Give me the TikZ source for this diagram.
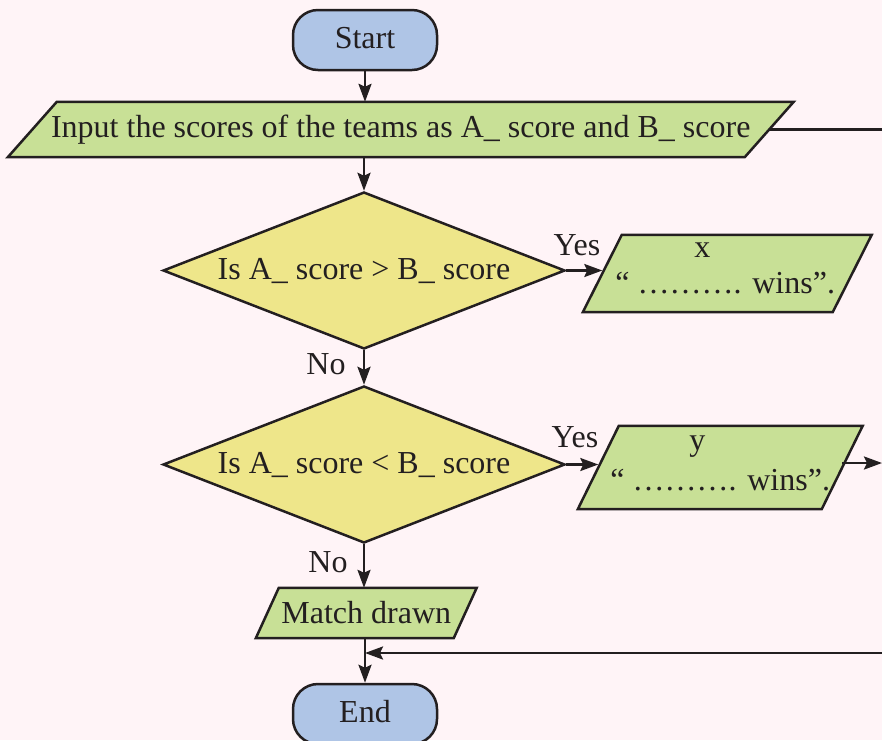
\documentclass[tikz,border=0pt]{standalone}
\usepackage{fontspec}
\setmainfont{Liberation Serif}
\usetikzlibrary{shapes.geometric,arrows.meta,backgrounds}
\definecolor{bgc}{HTML}{FFF4F7}
\definecolor{greenc}{HTML}{C8E096}
\definecolor{yellowc}{HTML}{EEE68A}
\definecolor{bluec}{HTML}{AFC5E6}
\definecolor{linec}{HTML}{231F20}
\begin{document}
\begin{tikzpicture}[x=1pt,y=-1pt,
  font=\fontsize{32}{36}\selectfont, text=linec,
  term/.style={draw=linec, fill=bluec, line width=2.5pt, rounded corners=25pt,
    minimum width=144pt, minimum height=60pt, inner sep=0pt,
    text height=21pt, text depth=5pt},
  iobox/.style={rectangle, inner sep=0pt, align=center},
  para/.style={draw=linec, fill=greenc, line width=2.5pt, line join=miter},
  decision/.style={draw=linec, fill=yellowc, line width=2.5pt, diamond, inner sep=0pt,
    aspect=2.56, minimum width=402pt, minimum height=157pt},
  conn/.style={draw=linec, line width=2.5pt, -{Stealth[length=18pt,width=13pt,inset=3pt]}},
  plain/.style={draw=linec, line width=2.5pt},
  lab/.style={inner sep=0pt}]
\useasboundingbox (0,0) rectangle (882,740);

\node[term] (start) at (365,40) {Start};
\node[iobox, minimum width=736.5pt, minimum height=55pt] (inp) at (400.75,129.5)
  {Input the scores of the teams as A\_ score and B\_ score};
\node[decision] (d1) at (364,270.5) {Is A\_ score > B\_ score};
\node[iobox, minimum width=249.5pt, minimum height=77pt,
  font=\fontsize{32}{36}\selectfont] (xb) at (727.25,273.5)
  {x\hspace*{50pt}\\“ ………. wins”.\hspace*{4pt}\rule[-10pt]{0pt}{10pt}};
\node[decision] (d2) at (364,464.5) {Is A\_ score < B\_ score};
\node[iobox, minimum width=243.5pt, minimum height=83pt,
  font=\fontsize{32}{40}\selectfont] (yb) at (720.25,467.5)
  {y\hspace*{46pt}\\“ ………. wins”.\rule[-8pt]{0pt}{8pt}};
\node[iobox, minimum width=197.5pt, minimum height=50pt] (md) at (366.25,613) {Match drawn};
\node[term] (end) at (365,714) {End};

\begin{pgfonlayer}{background}
  \fill[bgc] (0,0) rectangle (882,740);
  \foreach \n/\s in {inp/24.5, xb/19.5, yb/20.5, md/11.5}
    \path[para] ([xshift=-\s pt]\n.south west) -- ([xshift=\s pt]\n.north west)
      -- ([xshift=\s pt]\n.north east) -- ([xshift=-\s pt]\n.south east) -- cycle;
\end{pgfonlayer}

\coordinate (topout) at (882,129.5);
\coordinate (yout) at (882,463);
\coordinate (ret) at (882,653);

\draw[conn] (start.south) -- (start.south |- inp.north);
\draw[plain] (inp.east) -- (topout);
\draw[conn] (d1.north |- inp.south) -- (d1.north);
\draw[conn] (d1.east) -- (d1.east -| xb.west);
\draw[conn] (d1.south) -- (d2.north);
\draw[conn] (d2.east) -- (d2.east -| yb.west);
\draw[conn] (yb.east |- yout) -- (yout);
\draw[conn] (d2.south) -- (d2.south |- md.north);
\draw[conn] (end.north |- md.south) -- (end.north);
\draw[conn] (ret) -- (ret -| end.north);

\node[lab] (yes1) at (577,245) {Yes};
\node[lab] (no1) at (326,364) {No};
\node[lab] (yes2) at (575,437) {Yes};
\node[lab] (no2) at (328,562) {No};
\end{tikzpicture}
\end{document}
